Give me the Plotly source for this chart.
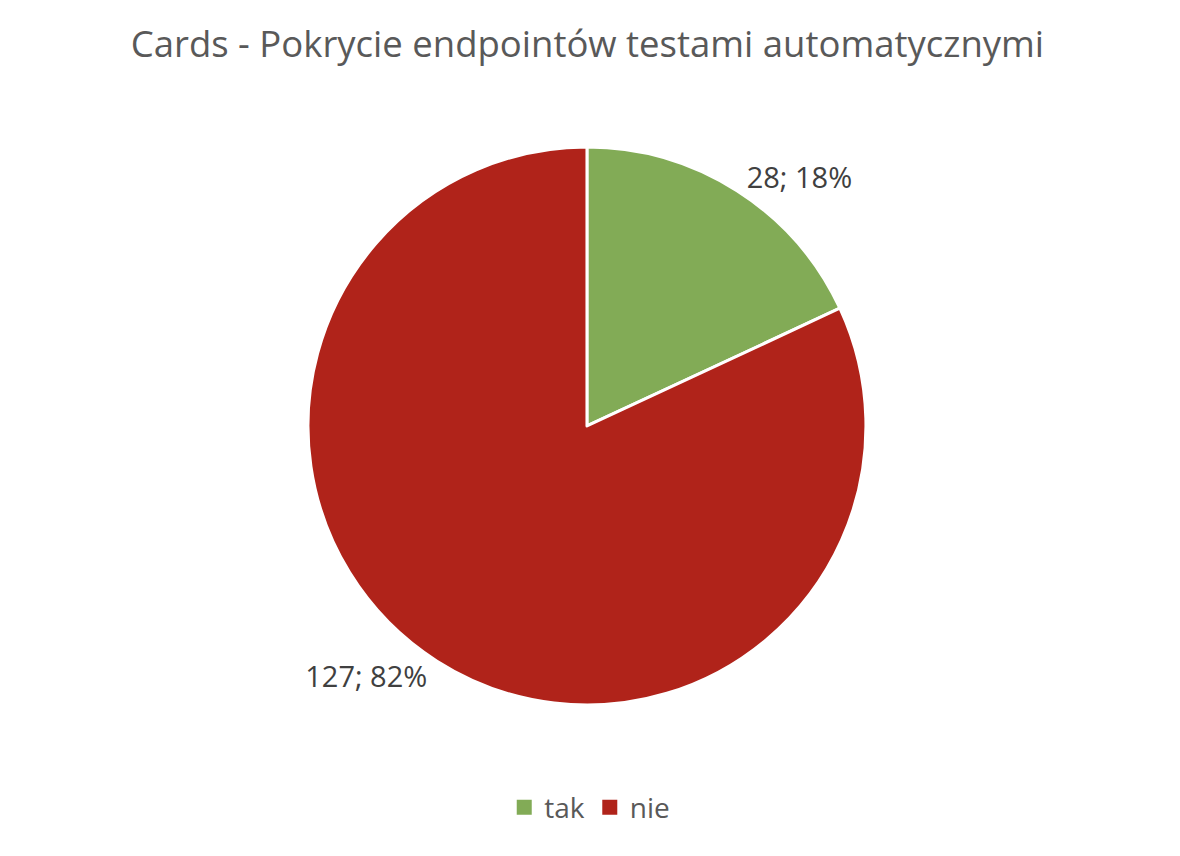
import plotly.graph_objects as go

labels = ['tak', 'nie']
values = [28, 127]
colors = ['#82AB56', '#B0231A']

chart_title = 'Cards - Pokrycie endpointów testami automatycznymi'
font_family = 'Open Sans, Lato, sans-serif'

fig = go.Figure(go.Pie(
    labels=labels,
    values=values,
    sort=False,
    direction='clockwise',
    rotation=0,
    marker=dict(colors=colors, line=dict(color='white', width=3)),
    texttemplate='%{value}; %{percent:.0%}',
    textposition='outside',
    textfont=dict(family=font_family, size=29, color='#404040'),
    showlegend=False,
    domain=dict(x=[0.2542, 0.7271], y=[0.1858, 0.8376]),
))

# legend squares drawn as dummy scatter traces so the marker size can be set
for lab, col in zip(labels, colors):
    fig.add_trace(go.Scatter(x=[None], y=[None], mode='markers', name=lab,
                             marker=dict(symbol='square', size=15, color=col)))

fig.update_xaxes(visible=False)
fig.update_yaxes(visible=False)

fig.update_layout(
    width=1180,
    height=856,
    paper_bgcolor='white',
    plot_bgcolor='white',
    margin=dict(l=0, r=0, t=0, b=0),
    title=dict(text=chart_title, x=0.491, xanchor='center', y=0.958, yanchor='middle',
               font=dict(family=font_family, size=36.5, color='#595959')),
    showlegend=True,
    legend=dict(orientation='h', x=0.493, xanchor='center', y=0.066, yanchor='middle',
                itemwidth=30,
                font=dict(family=font_family, size=28, color='#595959')),
)

fig.write_html('out.html')
